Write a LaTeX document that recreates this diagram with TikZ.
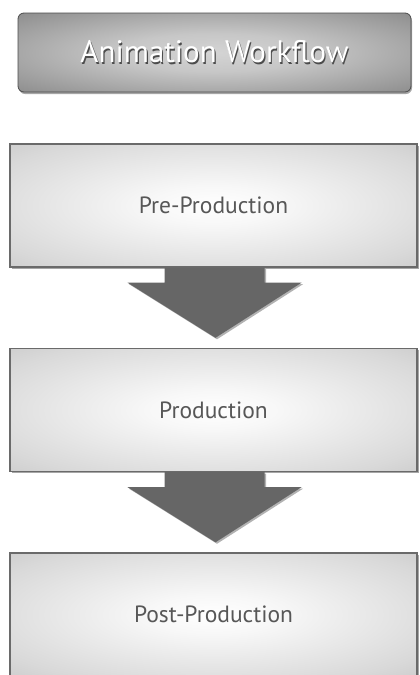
\documentclass[tikz,border=0pt]{standalone}
\usepackage{fontspec}
\setmainfont{PT Sans}
\usetikzlibrary{calc,shadows}
\definecolor{boxedge}{HTML}{6A6A6A}
\definecolor{arrowgray}{HTML}{666666}
\definecolor{txtgray}{HTML}{575757}
\newcommand{\shadowtext}[1]{\makebox[0pt][l]{\hspace{1.2pt}\raisebox{-1.6pt}{\color{black!70}#1}}{\color{white}#1}}
\pgfdeclareradialshading{stageshade}{\pgfpoint{0bp}{0bp}}{%
  color(0bp)=(white); color(8bp)=(white!97!black); color(30bp)=(black!15); color(50bp)=(black!29); color(75bp)=(black!31)}
\pgfdeclareradialshading{titleshade}{\pgfpoint{0bp}{0bp}}{%
  color(0bp)=(black!17); color(12bp)=(black!22); color(35bp)=(black!44); color(50bp)=(black!62); color(75bp)=(black!66)}
\tikzset{
  stagebox/.style={draw=boxedge, line width=1.4pt, shading=stageshade,
    minimum width=407pt, minimum height=123pt, inner sep=0pt,
    font=\fontsize{23.5}{26}\selectfont, text=txtgray,
    drop shadow={shadow xshift=1.5pt, shadow yshift=-1.5pt, opacity=0.35, fill=black}},
  titlebox/.style={draw=black!70, line width=0.8pt, rounded corners=6pt, shading=titleshade,
    minimum width=393pt, minimum height=79pt, inner sep=0pt,
    font=\fontsize{31}{34}\selectfont,
    drop shadow={shadow xshift=1pt, shadow yshift=-2pt, opacity=0.35, fill=black}},
  blockarrow/.style={fill=arrowgray, draw=none,
    drop shadow={shadow xshift=1.5pt, shadow yshift=-1.5pt, opacity=0.3, fill=black}}
}
\begin{document}
\begin{tikzpicture}[x=1pt,y=-1pt]
\clip (0,0) rectangle (420,675);
\fill[white] (0,0) rectangle (420,675);
% title
\node[titlebox] (title) at (214.5,52.5) {\shadowtext{Animation Workflow}};
% stages
\node[stagebox] (pre) at (213.5,205.5) {Pre-Production};
\node[stagebox] (prod) at (213.5,410) {Production};
\node[stagebox] (post) at (213.5,614.5) {Post-Production};
% block arrows
\foreach \a/\b in {pre/prod, prod/post}{
  \fill[blockarrow]
    ($(\a.south)+(-49,0)$) -- ($(\a.south)+(51,0)$) -- ($(\a.south)+(51,15)$) --
    ($(\a.south)+(88,15)$) -- ($(\b.north)+(2,-10)$) -- ($(\a.south)+(-86,15)$) --
    ($(\a.south)+(-49,15)$) -- cycle;
}
\end{tikzpicture}
\end{document}
